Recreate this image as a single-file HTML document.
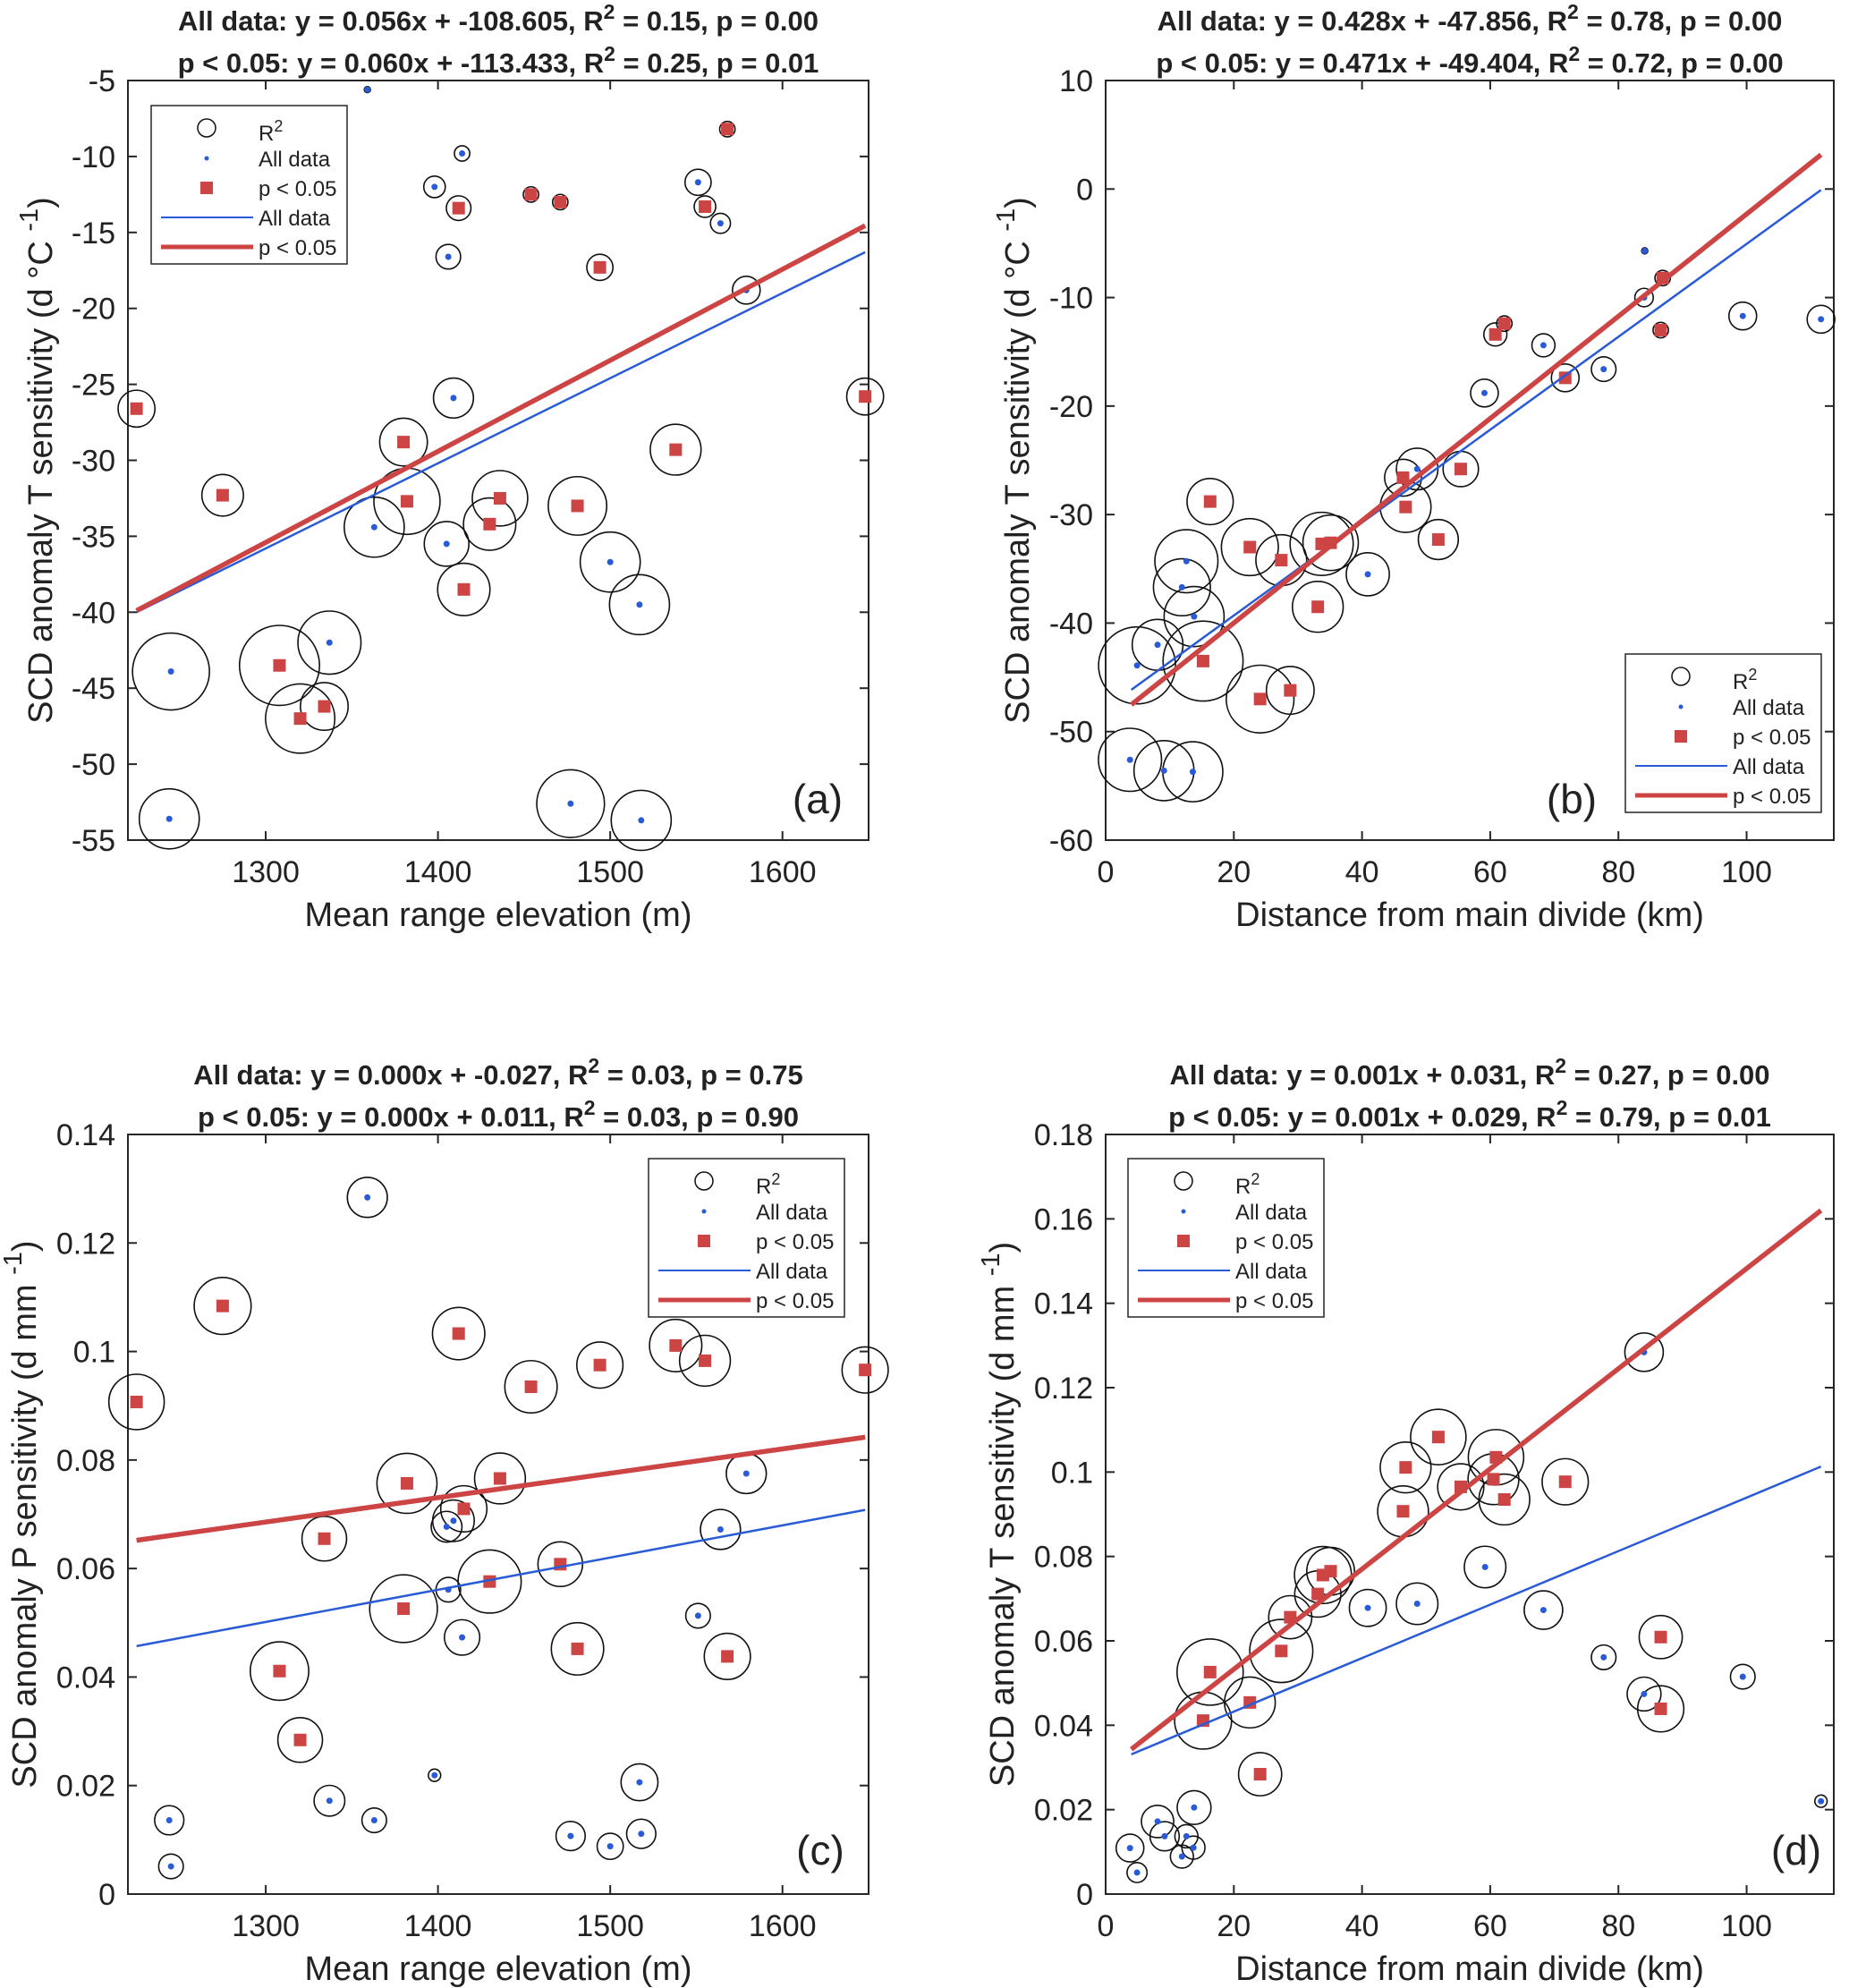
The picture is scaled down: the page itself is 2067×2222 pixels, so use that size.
<!DOCTYPE html>
<html><head><meta charset="utf-8"><style>
html,body{margin:0;padding:0;background:#fff;}
svg{display:block;font-family:"Liberation Sans",Arial,sans-serif;}
</style></head><body>
<svg id="fig" width="2067" height="2222" viewBox="0 0 2067 2222" xmlns="http://www.w3.org/2000/svg"></svg>
<script>
// ---------- Panel (a): T sensitivity vs elevation ----------
const aX=[1359,1414,1398,1412,1406,1454,1471,1568,1494,1551,1555,1564,1579,1225,1409,1648,1275,1380,1538,1363,1382,1405,1430,1436,1481,1500,1517,1415,1245,1337,1308,1320,1334,1244,1477,1518];
const aY=[-5.6,-9.8,-12.0,-13.4,-16.6,-12.5,-13.0,-8.2,-17.3,-11.7,-13.3,-14.4,-18.8,-26.6,-25.9,-25.8,-32.3,-28.8,-29.3,-34.4,-32.7,-35.5,-34.2,-32.5,-33.0,-36.7,-39.5,-38.5,-43.9,-42.0,-43.5,-47.0,-46.2,-53.6,-52.6,-53.7];
const aR2=[0.04,0.10,0.14,0.16,0.16,0.10,0.10,0.10,0.17,0.17,0.14,0.13,0.18,0.24,0.26,0.24,0.27,0.31,0.33,0.39,0.43,0.29,0.34,0.36,0.38,0.39,0.39,0.34,0.50,0.41,0.52,0.45,0.31,0.39,0.44,0.39];
const aSig=[0,0,0,1,0,1,1,1,1,0,1,0,0,1,0,1,1,1,1,0,1,0,1,1,1,0,0,1,0,0,1,1,1,0,0,0];
const aLineX=[1225,1648];
const aAllY=[-40.0,-16.3];
const aSigY=[-39.9,-14.55];
const aXTicks=[1300,1400,1500,1600];
const aYTicks=[-55,-50,-45,-40,-35,-30,-25,-20,-15,-10,-5];
// ---------- Panel (b): T sensitivity vs distance ----------
const bX=[84.1,84.0,86.9,86.6,99.4,111.6,60.8,62.2,68.3,77.7,71.7,59.1,55.4,48.6,46.4,46.8,51.9,16.3,22.5,27.4,33.7,35.1,40.9,33.1,12.6,11.9,13.8,8.1,4.9,15.2,24.1,28.8,3.8,9.1,13.6];
const bY=[-5.7,-10.0,-8.2,-13.0,-11.7,-12.0,-13.4,-12.4,-14.4,-16.6,-17.4,-18.8,-25.8,-25.8,-26.6,-29.3,-32.3,-28.8,-33.0,-34.2,-32.7,-32.6,-35.5,-38.5,-34.3,-36.7,-39.4,-42.0,-43.9,-43.5,-47.0,-46.2,-52.6,-53.6,-53.7];
const bR2=[0.04,0.12,0.10,0.10,0.18,0.18,0.15,0.10,0.15,0.16,0.18,0.18,0.23,0.27,0.24,0.33,0.26,0.30,0.37,0.33,0.41,0.36,0.28,0.33,0.41,0.37,0.39,0.33,0.50,0.52,0.44,0.31,0.41,0.39,0.39];
const bSig=[0,0,1,1,0,0,1,1,0,0,1,0,1,0,1,1,1,1,1,1,1,1,0,1,0,0,0,0,0,1,1,1,0,0,0];
const bLineX=[4,111.6];
const bAllY=[-46.15,-0.09];
const bSigY=[-47.52,3.16];
const bXTicks=[0,20,40,60,80,100];
const bYTicks=[-60,-50,-40,-30,-20,-10,0,10];
// ---------- Panel (c): P sensitivity vs elevation ----------
const cX=[1359,1275,1225,1412,1454,1494,1538,1555,1648,1579,1382,1436,1415,1409,1405,1334,1564,1471,1430,1406,1380,1414,1551,1481,1568,1308,1320,1398,1337,1517,1244,1363,1245,1477,1500,1518];
const cY=[0.1284,0.1084,0.0907,0.1033,0.0935,0.0975,0.1011,0.0983,0.0966,0.0775,0.0757,0.0766,0.0710,0.0688,0.0677,0.0655,0.0672,0.0608,0.0576,0.0561,0.0526,0.0473,0.0513,0.0452,0.0438,0.0411,0.0284,0.0219,0.0172,0.0206,0.0136,0.0136,0.0051,0.0107,0.0088,0.0111];
const cR2=[0.26,0.37,0.36,0.34,0.34,0.30,0.34,0.33,0.30,0.26,0.39,0.33,0.30,0.27,0.20,0.29,0.26,0.29,0.41,0.16,0.44,0.23,0.16,0.34,0.30,0.38,0.29,0.08,0.20,0.24,0.19,0.16,0.16,0.19,0.17,0.19];
const cSig=[0,1,1,1,1,1,1,1,1,0,1,1,1,0,0,1,0,1,1,0,1,0,0,1,1,1,1,0,0,0,0,0,0,0,0,0];
const cLineX=[1225,1648];
const cAllY=[0.0457,0.0708];
const cSigY=[0.0652,0.0842];
const cXTicks=[1300,1400,1500,1600];
const cYTicks=[0,0.02,0.04,0.06,0.08,0.1,0.12,0.14];
// ---------- Panel (d): T sensitivity (mm) vs distance ----------
const dX=[84.0,51.9,46.8,46.4,60.9,60.5,55.4,62.2,71.7,59.2,33.9,35.1,33.1,40.9,48.6,68.3,28.8,27.4,16.3,22.5,15.2,24.1,86.6,77.7,84.0,86.6,99.4,111.6,13.8,8.1,3.8,9.2,12.6,13.7,11.9,4.9];
const dY=[0.1284,0.1083,0.1011,0.0907,0.1035,0.0983,0.0965,0.0935,0.0977,0.0775,0.0756,0.0765,0.0711,0.0678,0.0688,0.0673,0.0656,0.0576,0.0526,0.0454,0.0411,0.0284,0.0609,0.0561,0.0474,0.0439,0.0515,0.0220,0.0205,0.0172,0.0109,0.0137,0.0137,0.0110,0.0089,0.0051];
const dR2=[0.25,0.36,0.33,0.33,0.36,0.33,0.30,0.33,0.30,0.27,0.37,0.31,0.30,0.24,0.27,0.25,0.28,0.41,0.43,0.33,0.37,0.28,0.28,0.16,0.22,0.30,0.16,0.08,0.22,0.21,0.18,0.19,0.15,0.15,0.15,0.13];
const dSig=[0,1,1,1,1,1,1,1,1,0,1,1,1,0,0,0,1,1,1,1,1,1,1,0,0,1,0,0,0,0,0,0,0,0,0,0];
const dLineX=[4,111.6];
const dAllY=[0.0331,0.1013];
const dSigY=[0.0343,0.1620];
const dXTicks=[0,20,40,60,80,100];
const dYTicks=[0,0.02,0.04,0.06,0.08,0.1,0.12,0.14,0.16,0.18];

const NS="http://www.w3.org/2000/svg";
const svg=document.getElementById('fig');
function mk(tag,attrs,parent){const e=document.createElementNS(NS,tag);for(const k in attrs)e.setAttribute(k,attrs[k]);(parent||svg).appendChild(e);return e;}
function stext(parent,x,y,parts,size,anchor,weight,rot){
  const t=mk('text',{x:x,y:y,'font-size':size,'text-anchor':anchor||'middle','font-weight':weight||'normal',fill:'#222'},parent);
  if(rot)t.setAttribute('transform','rotate(-90 '+x+' '+y+')');
  parts.forEach(p=>{const s=mk('tspan',{},t);s.textContent=p.t;if(p.sup){s.setAttribute('baseline-shift','super');s.setAttribute('font-size',Math.round(size*0.75));}});
  return t;
}
const BLUE='#2a5bd6', RED='#cc4444';

function panel(c){
  const g=mk('g',{});
  
  
  const sx=v=>c.L+(v-c.xd[0])/(c.xd[1]-c.xd[0])*(c.R-c.L);
  const sy=v=>c.B-(v-c.yd[0])/(c.yd[1]-c.yd[0])*(c.B-c.T);
  const t1=stext(g,(c.L+c.R)/2,c.T-56,[{t:'All data: '+c.t1a+', R'},{t:'2',sup:1},{t:' = '+c.t1b}],31,'middle','bold');
  
  
  const t2=stext(g,(c.L+c.R)/2,c.T-9,[{t:'p < 0.05: '+c.t2a+', R'},{t:'2',sup:1},{t:' = '+c.t2b}],31,'middle','bold');
  
  
  const box=mk('rect',{x:c.L,y:c.T,width:c.R-c.L,height:c.B-c.T,fill:'none',stroke:'#262626','stroke-width':2},g);
  
  
  c.xt.forEach(v=>{const x=sx(v);
    mk('line',{x1:x,x2:x,y1:c.B,y2:c.B-10,stroke:'#262626','stroke-width':2},g);
    mk('line',{x1:x,x2:x,y1:c.T,y2:c.T+10,stroke:'#262626','stroke-width':2},g);
    const tl=stext(g,x,c.B+47,[{t:String(v)}],34,'middle');
    
    
  });
  c.yt.forEach(v=>{const y=sy(v);
    mk('line',{x1:c.L,x2:c.L+10,y1:y,y2:y,stroke:'#262626','stroke-width':2},g);
    mk('line',{x1:c.R,x2:c.R-10,y1:y,y2:y,stroke:'#262626','stroke-width':2},g);
    const tl=stext(g,c.L-14,y+12,[{t:String(v)}],34,'end');
    
    
  });
  const xl=stext(g,(c.L+c.R)/2,c.B+96,[{t:c.xlab}],38,'middle');
  
  
  const yl=stext(g,c.ylx,(c.T+c.B)/2,c.ylab,38,'middle','normal',true);
  
  
  c.X.forEach((v,i)=>{
    const ci=mk('circle',{cx:sx(v),cy:sy(c.Y[i]),r:c.R2[i]*86,fill:'none',stroke:'#111','stroke-width':1.6},g);
    
    
  });
  c.X.forEach((v,i)=>{
    const x=sx(v),y=sy(c.Y[i]);
    if(c.S[i]){
      const s=mk('rect',{x:x-7,y:y-7,width:14,height:14,fill:RED},g);
      
      
    }else{
      const d=mk('circle',{cx:x,cy:y,r:3.5,fill:BLUE},g);
      
      
    }
  });
  const lb=mk('line',{x1:sx(c.lx[0]),y1:sy(c.ay[0]),x2:sx(c.lx[1]),y2:sy(c.ay[1]),stroke:BLUE,'stroke-width':2.5},g);
  
  
  const lr=mk('line',{x1:sx(c.lx[0]),y1:sy(c.sy[0]),x2:sx(c.lx[1]),y2:sy(c.sy[1]),stroke:RED,'stroke-width':5.5},g);
  
  
  const pl=stext(g,c.plx,c.ply,[{t:c.letter}],46,'middle');
  
  
  const lg=mk('g',{transform:'translate('+c.lgx+','+c.lgy+')'},g);
  
  
  mk('rect',{x:0,y:0,width:219,height:177,fill:'#fff',stroke:'#262626','stroke-width':1.5},lg);
  const rows=[25,59,92,125,158];
  mk('circle',{cx:62,cy:rows[0],r:10,fill:'none',stroke:'#111','stroke-width':1.5},lg);
  mk('circle',{cx:62,cy:rows[1],r:2.5,fill:BLUE},lg);
  mk('rect',{x:55,y:rows[2]-7,width:14,height:14,fill:RED},lg);
  mk('line',{x1:11,x2:114,y1:rows[3],y2:rows[3],stroke:BLUE,'stroke-width':2},lg);
  mk('line',{x1:11,x2:114,y1:rows[4],y2:rows[4],stroke:RED,'stroke-width':5},lg);
  const labs=[[{t:'R'},{t:'2',sup:1}],[{t:'All data'}],[{t:'p < 0.05'}],[{t:'All data'}],[{t:'p < 0.05'}]];
  labs.forEach((p,i)=>{const e=stext(lg,120,rows[i]+9+(i===0?5:0),p,24,'start');
    
    });
}
const ylT=[{t:'SCD anomaly T sensitivity (d °C '},{t:'-1',sup:1},{t:')'}];
panel({name:'panel-a',L:143,R:971,T:90,B:939,xd:[1220,1650],yd:[-55,-5],X:aX,Y:aY,R2:aR2,S:aSig,lx:aLineX,ay:aAllY,sy:aSigY,xt:aXTicks,yt:aYTicks,
  t1a:'y = 0.056x + -108.605',t1b:'0.15, p = 0.00',t2a:'y = 0.060x + -113.433',t2b:'0.25, p = 0.01',
  xlab:'Mean range elevation (m)',ylab:ylT,ylx:58,letter:'(a)',plx:914,ply:909,lgx:169,lgy:118});
panel({name:'panel-b',L:1236,R:2050,T:90,B:939,xd:[0,113.6],yd:[-60,10],X:bX,Y:bY,R2:bR2,S:bSig,lx:bLineX,ay:bAllY,sy:bSigY,xt:bXTicks,yt:bYTicks,
  t1a:'y = 0.428x + -47.856',t1b:'0.78, p = 0.00',t2a:'y = 0.471x + -49.404',t2b:'0.72, p = 0.00',
  xlab:'Distance from main divide (km)',ylab:ylT,ylx:1150,letter:'(b)',plx:1757,ply:909,lgx:1817,lgy:731});
panel({name:'panel-c',L:143,R:971,T:1268,B:2117,xd:[1220,1650],yd:[0,0.14],X:cX,Y:cY,R2:cR2,S:cSig,lx:cLineX,ay:cAllY,sy:cSigY,xt:cXTicks,yt:cYTicks,
  t1a:'y = 0.000x + -0.027',t1b:'0.03, p = 0.75',t2a:'y = 0.000x + 0.011',t2b:'0.03, p = 0.90',
  xlab:'Mean range elevation (m)',ylab:[{t:'SCD anomaly P sensitivity (d mm '},{t:'-1',sup:1},{t:')'}],ylx:40,letter:'(c)',plx:917,ply:2084,lgx:725,lgy:1295});
panel({name:'panel-d',L:1236,R:2050,T:1268,B:2117,xd:[0,113.6],yd:[0,0.18],X:dX,Y:dY,R2:dR2,S:dSig,lx:dLineX,ay:dAllY,sy:dSigY,xt:dXTicks,yt:dYTicks,
  t1a:'y = 0.001x + 0.031',t1b:'0.27, p = 0.00',t2a:'y = 0.001x + 0.029',t2b:'0.79, p = 0.01',
  xlab:'Distance from main divide (km)',ylab:[{t:'SCD anomaly T sensitivity (d mm '},{t:'-1',sup:1},{t:')'}],ylx:1133,letter:'(d)',plx:2008,ply:2084,lgx:1261,lgy:1295});
</script>
</body></html>
